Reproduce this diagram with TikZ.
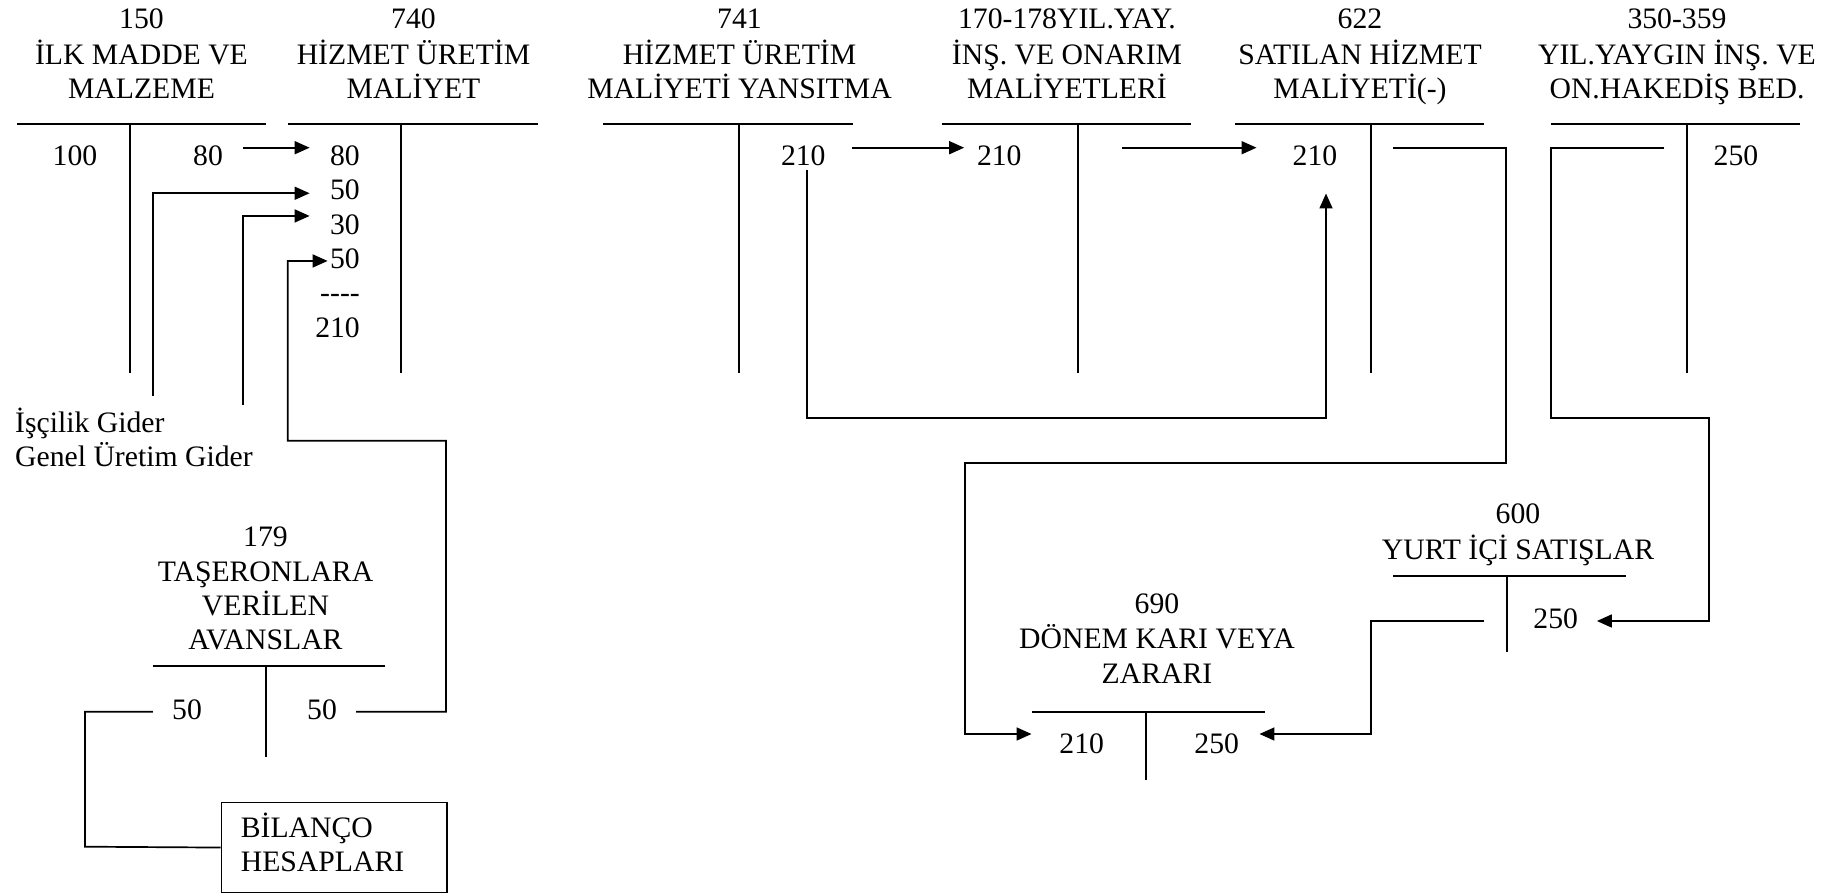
\documentclass[tikz,border=0pt]{standalone}
\usepackage{fontspec}
\setmainfont{Liberation Serif}
\usetikzlibrary{arrows.meta}
\begin{document}
\begin{tikzpicture}[x=1pt,y=-1pt,
  every node/.style={inner sep=0pt, font=\fontsize{29.7}{34.3}\selectfont},
  ln/.style={line width=1.7pt},
  arr/.style={line width=1.7pt,-{Triangle[length=15pt,width=13pt]}},
  num/.style={anchor=base, text height=20.1pt, text depth=0pt},
  title/.style={anchor=north, align=center},
  lbl/.style={anchor=base west},
  boxnode/.style={draw, line width=1.7pt, anchor=north west, text width=186.7pt,
    inner xsep=19.3pt, inner ysep=0pt, minimum height=90pt, align=left}]
\useasboundingbox (0,0) rectangle (1839,893);

% ---- titles
\node[title] (t150) at (141.5,4.3) {\strut 150\\İLK MADDE VE\\MALZEME};
\node[title] (t740) at (413.5,4.3) {\strut 740\\HİZMET ÜRETİM\\MALİYET};
\node[title] (t741) at (739.5,4.3) {\strut 741\\HİZMET ÜRETİM\\MALİYETİ YANSITMA};
\node[title] (t170) at (1067,4.3) {\strut 170-178YIL.YAY.\\İNŞ. VE ONARIM\\MALİYETLERİ};
\node[title] (t622) at (1360,4.3) {\strut 622\\SATILAN HİZMET\\MALİYETİ(-)};
\node[title] (t350) at (1677,4.3) {\strut 350-359\\YIL.YAYGIN İNŞ. VE\\ON.HAKEDİŞ BED.};
\node[title] (t179) at (265.5,522.5) {\strut 179\\TAŞERONLARA\\VERİLEN\\AVANSLAR};
\node[title] (t600) at (1518,499.3) {\strut 600\\YURT İÇİ SATIŞLAR};
\node[title] (t690) at (1157,589.3) {\strut 690\\DÖNEM KARI VEYA\\ZARARI};

% ---- T-account lines
\draw[ln] (17,124.3) -- (266,124.3);     \draw[ln] (130,124.3) -- (130,373.3);
\draw[ln] (288,124.3) -- (538,124.3);    \draw[ln] (400.7,124.3) -- (400.7,373.3);
\draw[ln] (603.3,124.3) -- (852.7,124.3); \draw[ln] (739.3,124.3) -- (739.3,373.3);
\draw[ln] (941.7,124.3) -- (1191,124.3); \draw[ln] (1077.7,124.3) -- (1077.7,373.3);
\draw[ln] (1235,124.3) -- (1484.3,124.3); \draw[ln] (1370.7,124.3) -- (1370.7,373.3);
\draw[ln] (1551,124.3) -- (1800,124.3);  \draw[ln] (1687.3,124.3) -- (1687.3,373.3);
\draw[ln] (152.7,666) -- (385,666);      \draw[ln] (265.7,666) -- (265.7,756.7);
\draw[ln] (1393.3,576) -- (1625.7,576);  \draw[ln] (1506.7,576) -- (1506.7,652.3);
\draw[ln] (1032.3,711.7) -- (1265,711.7); \draw[ln] (1145.7,711.7) -- (1145.7,780);

% ---- amounts
\node[num] (c150a) at (75,165.7) {100};
\node[num] (c150b) at (208,165.7) {80};
\node[num,anchor=base east] (d1) at (360,165.7) {80};
\node[num,anchor=base east] (d2) at (360,200) {50};
\node[num,anchor=base east] (d3) at (360,234.3) {30};
\node[num,anchor=base east] (d4) at (360,268.6) {50};
\node[num,anchor=base east] (d5) at (360,302.9) {-\kern0pt-\kern0pt-\kern0pt-};
\node[num,anchor=base east] (d6) at (360,337.2) {210};
\node[num] (a741) at (803.3,166) {210};
\node[num] (a170) at (999.3,166) {210};
\node[num] (a622) at (1315,166) {210};
\node[num] (a350) at (1736,166) {250};
\node[num] (a179l) at (187,719.3) {50};
\node[num] (a179r) at (322,719.3) {50};
\node[num] (a600) at (1555.7,628.3) {250};
\node[num] (b690l) at (1081.7,753.3) {210};
\node[num] (b690r) at (1216.7,753.3) {250};

% ---- labels and box
\node[lbl] (lbI) at (15,432) {İşçilik Gider};
\node[lbl] (lbG) at (15,466.5) {Genel Üretim Gider};
\node[boxnode] (box) at (220.7,801.7) {\strut BİLANÇO\\HESAPLARI\strut};

% ---- free ends
\coordinate (bS) at (152.7,396);
\coordinate (cS) at (242.7,405);
\coordinate (hS) at (1122.3,147.7);
\coordinate (iS) at (1393.3,147.7);
\coordinate (jS) at (1664.3,147.7);
\coordinate (kS) at (1484.3,621);

% ---- connectors
\draw[arr] ([xshift=20.15pt,yshift=7.95pt]c150b.east) -- ([xshift=-20.3pt,yshift=7.95pt]d1.west);
\draw[arr] (bS) |- ([xshift=-20.3pt,yshift=-3.3pt]d2.west);
\draw[arr] (cS) |- ([xshift=-20.3pt,yshift=8.3pt]d3.west);
\draw[arr] ([xshift=19.15pt,yshift=-2.45pt]a179r.east) -| (446,440.7) -| (287.7,261)
  -- ([xshift=-2.3pt,yshift=-2.4pt]d4.west);
\draw[ln] ([xshift=-19.15pt,yshift=-2.45pt]a179l.west) -| (85,846.7) -- (box.west);
\draw[arr] ([xshift=26.1pt,yshift=8.25pt]a741.east) -- ([xshift=-12.7pt,yshift=8.25pt]a170.west);
\draw[arr] ([xshift=3.4pt,yshift=-4pt]a741.south) |- (1326,418.3)
  -- ([xshift=11pt,yshift=-27.3pt]a622.south);
\draw[arr] (hS) -- ([xshift=-36pt,yshift=8.25pt]a622.west);
\draw[arr] (iS) -| (1506,462.7) -| (965,734) -- ([xshift=-27.7pt,yshift=9.25pt]b690l.west);
\draw[arr] (jS) -| (1551,418.3) -| (1709.3,621) -- ([xshift=18.7pt,yshift=-2.75pt]a600.east);
\draw[arr] (kS) -| (1371,734) -- ([xshift=20.3pt,yshift=9.25pt]b690r.east);
\end{tikzpicture}
\end{document}
